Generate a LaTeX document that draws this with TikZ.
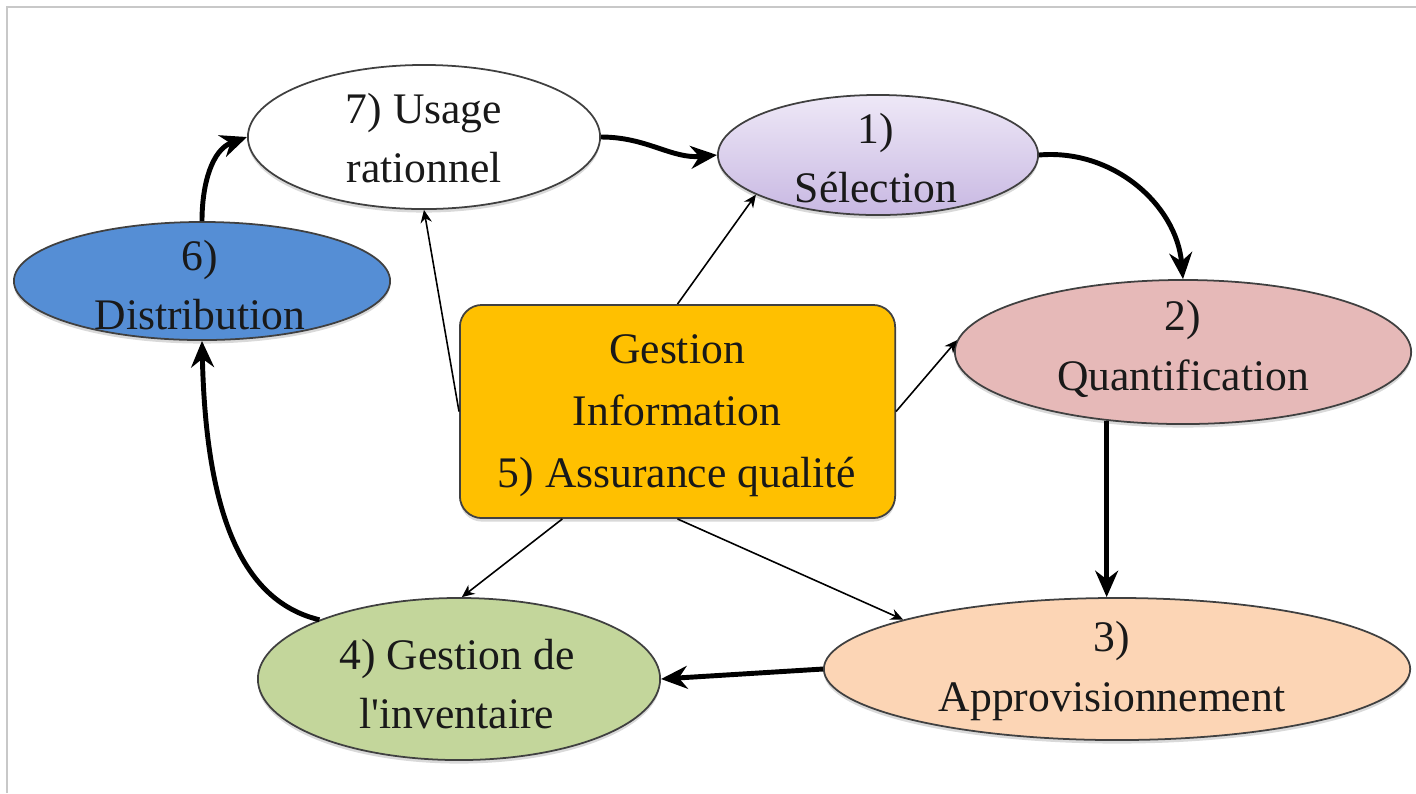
\documentclass[tikz,border=0pt]{standalone}
\usepackage{fontspec}
\setmainfont{Liberation Serif}
\usetikzlibrary{arrows.meta,shapes.geometric,shadows,calc}
\definecolor{distblue}{RGB}{85,142,213}
\definecolor{quantpink}{RGB}{230,185,184}
\definecolor{appropeach}{RGB}{252,213,181}
\definecolor{invgreen}{RGB}{195,214,155}
\definecolor{boxgold}{RGB}{255,192,0}
\definecolor{seltop}{RGB}{238,232,247}
\definecolor{selbot}{RGB}{200,184,226}
\definecolor{framegray}{RGB}{200,200,200}
\begin{document}
\begin{tikzpicture}[x=0.01cm,y=-0.01cm,
  oval/.style={ellipse, draw=black!75, line width=0.5pt, inner sep=0pt,
    drop shadow={shadow xshift=0pt, shadow yshift=-1pt, opacity=0.3}},
  lbl/.style={align=center, font=\fontsize{12.4}{17}\selectfont, text=black!90, inner sep=0pt},
  bigarrow/.style={line width=1.4pt, -{Stealth[length=7.5pt,width=6.5pt]}},
  smallarrow/.style={line width=0.45pt, -{Stealth[length=3.6pt,width=3.2pt]}}]
\useasboundingbox (0,0) rectangle (1416,793);
\draw[framegray, line width=0.6pt] (7,793) -- (7,7) -- (1416,7);

% ovals
\node[oval, fill=white, minimum width=3.52cm, minimum height=1.44cm] (usage) at (424,137) {};
\node[oval, top color=seltop, bottom color=selbot, minimum width=3.20cm, minimum height=1.20cm] (sel) at (878,155) {};
\node[oval, fill=quantpink, minimum width=4.56cm, minimum height=1.44cm] (quant) at (1183,352) {};
\node[oval, fill=distblue, minimum width=3.76cm, minimum height=1.18cm] (dist) at (202,281) {};
\node[oval, fill=appropeach, minimum width=5.86cm, minimum height=1.42cm] (appro) at (1117,669) {};
\node[oval, fill=invgreen, minimum width=4.02cm, minimum height=1.62cm] (inv) at (459,679) {};
\node[draw=black!75, line width=0.5pt, fill=boxgold, rounded corners=0.22cm,
  minimum width=4.35cm, minimum height=2.13cm,
  drop shadow={shadow xshift=0pt, shadow yshift=-1pt, opacity=0.3}] (box) at (677.5,411.5) {};

% labels
\node[lbl] (usageT) at (424,138) {7) Usage\\rationnel};
\node[lbl] (selT) at (876,158) {1)\\Sélection};
\node[lbl] (quantT) at (1183,349) {2)\\Quantification};
\node[lbl] (distT) at (200,285) {6)\\Distribution};
\node[lbl] (approT) at (1112,671) {3)\\Approvisionnement};
\node[lbl] (invT) at (457,684) {4) Gestion de\\l\textquotesingle inventaire};
\node[lbl, font=\fontsize{12.4}{17.6}\selectfont] (boxT) at (677,416) {Gestion\\Information\\5) Assurance qualité};

% cycle (thick)
\draw[bigarrow] (usage.east) to[out=0, in=185] (sel.west);
\draw[bigarrow] (sel.east) to[out=5, in=95] (quant.north);
\draw[bigarrow] (quant.222) -- (quant.222 |- appro.north);
\draw[bigarrow] (appro.west) -- (inv.east);
\draw[bigarrow] (inv.157) .. controls (245,602) and (206,520) .. (dist.south);
\draw[bigarrow] (dist.north) to[out=90, in=200] (usage.west);

% from the centre box (thin)
\draw[smallarrow] (box.west) -- (usage.south);
\draw[smallarrow] (box.north) -- (sel.198);
\draw[smallarrow] (box.east) -- (quant.177);
\draw[smallarrow] (box.223) -- (inv.88);
\draw[smallarrow] (box.south) -- (appro.167);
\end{tikzpicture}
\end{document}
